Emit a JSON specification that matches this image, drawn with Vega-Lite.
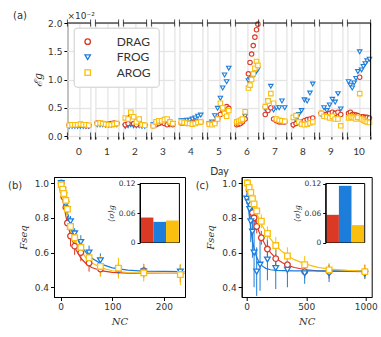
{
  "$schema": "https://vega.github.io/schema/vega-lite/v6.json",
  "background": "white",
  "padding": {"left": 7, "top": 11, "right": 2, "bottom": 2},
  "config": {
    "view": {"stroke": null},
    "font": "DejaVu Sans",
    "axis": {"labelFont": "DejaVu Sans", "labelFontSize": 9, "labelColor": "#333333", "titleFont": "Lato", "titleFontSize": 10, "titleFontWeight": "normal", "titleColor": "#333333", "domainColor": "black", "tickColor": "black", "grid": false, "labelFlush": false, "labelOverlap": false, "labelBound": false, "tickSize": 3.5},
    "title": {"font": "DejaVu Sans", "fontSize": 10, "fontWeight": "normal", "color": "#333333"}
  },
  "title": {"text": "(a)", "anchor": "start", "frame": "group", "dx": -41, "dy": 9, "offset": 0},
  "datasets": {
    "top": [
      {"d":0,"t":0.08,"DRAG":0.19,"FROG":0.17,"AROG":0.19},{"d":0,"t":0.2,"DRAG":0.19,"FROG":0.17,"AROG":0.2},{"d":0,"t":0.32,"DRAG":0.19,"FROG":0.17,"AROG":0.2},{"d":0,"t":0.44,"DRAG":0.19,"FROG":0.17,"AROG":0.2},{"d":0,"t":0.56,"DRAG":0.19,"FROG":0.17,"AROG":0.21},{"d":0,"t":0.68,"DRAG":0.19,"FROG":0.17,"AROG":0.2},{"d":0,"t":0.8,"DRAG":0.18,"FROG":0.17,"AROG":0.2},{"d":0,"t":0.92,"DRAG":0.18,"FROG":0.17,"AROG":0.19},
      {"d":1,"t":0.08,"DRAG":0.23,"FROG":0.2,"AROG":0.22},{"d":1,"t":0.2,"DRAG":0.23,"FROG":0.2,"AROG":0.23},{"d":1,"t":0.32,"DRAG":0.22,"FROG":0.2,"AROG":0.22},{"d":1,"t":0.44,"DRAG":0.21,"FROG":0.19,"AROG":0.21},{"d":1,"t":0.56,"DRAG":0.21,"FROG":0.19,"AROG":0.2},{"d":1,"t":0.68,"DRAG":0.22,"FROG":0.19,"AROG":0.2},{"d":1,"t":0.8,"DRAG":0.23,"FROG":0.2,"AROG":0.21},{"d":1,"t":0.92,"DRAG":0.22,"FROG":0.2,"AROG":0.22},
      {"d":2,"t":0.08,"DRAG":0.2,"FROG":0.17,"AROG":0.32},{"d":2,"t":0.2,"DRAG":0.22,"FROG":0.18,"AROG":0.3},{"d":2,"t":0.32,"DRAG":0.35,"FROG":0.2,"AROG":0.42},{"d":2,"t":0.44,"DRAG":0.22,"FROG":0.18,"AROG":0.34},{"d":2,"t":0.56,"DRAG":0.2,"FROG":0.18,"AROG":0.25},{"d":2,"t":0.68,"DRAG":0.25,"FROG":0.18,"AROG":0.3},{"d":2,"t":0.8,"DRAG":0.2,"FROG":0.17,"AROG":0.2},{"d":2,"t":0.92,"DRAG":0.19,"FROG":0.17,"AROG":0.19},
      {"d":3,"t":0.08,"DRAG":0.18,"FROG":0.2,"AROG":0.18},{"d":3,"t":0.2,"DRAG":0.2,"FROG":0.22,"AROG":0.25},{"d":3,"t":0.32,"DRAG":0.22,"FROG":0.22,"AROG":0.27},{"d":3,"t":0.44,"DRAG":0.24,"FROG":0.24,"AROG":0.27},{"d":3,"t":0.56,"DRAG":0.22,"FROG":0.25,"AROG":0.29},{"d":3,"t":0.68,"DRAG":0.2,"FROG":0.22,"AROG":0.3},{"d":3,"t":0.8,"DRAG":0.22,"FROG":0.2,"AROG":0.25},{"d":3,"t":0.92,"DRAG":0.2,"FROG":0.22,"AROG":0.22},
      {"d":4,"t":0.08,"DRAG":0.23,"FROG":0.27,"AROG":0.25},{"d":4,"t":0.2,"DRAG":0.23,"FROG":0.27,"AROG":0.24},{"d":4,"t":0.32,"DRAG":0.22,"FROG":0.28,"AROG":0.23},{"d":4,"t":0.44,"DRAG":0.22,"FROG":0.28,"AROG":0.22},{"d":4,"t":0.56,"DRAG":0.23,"FROG":0.3,"AROG":0.21},{"d":4,"t":0.68,"DRAG":0.24,"FROG":0.32,"AROG":0.22},{"d":4,"t":0.8,"DRAG":0.25,"FROG":0.35,"AROG":0.24},{"d":4,"t":0.92,"DRAG":0.25,"FROG":0.37,"AROG":0.25},
      {"d":5,"t":0.08,"DRAG":0.22,"FROG":0.22,"AROG":0.21},{"d":5,"t":0.2,"DRAG":0.22,"FROG":0.25,"AROG":0.2},{"d":5,"t":0.32,"DRAG":0.24,"FROG":0.36,"AROG":0.22},{"d":5,"t":0.44,"DRAG":0.3,"FROG":0.49,"AROG":0.3},{"d":5,"t":0.56,"DRAG":0.38,"FROG":0.67,"AROG":0.58},{"d":5,"t":0.66,"DRAG":0.46,"FROG":0.85,"AROG":0.5},{"d":5,"t":0.74,"DRAG":0.4,"FROG":1.08,"AROG":0.4},{"d":5,"t":0.83,"DRAG":0.52,"FROG":0.96,"AROG":0.35},{"d":5,"t":0.92,"DRAG":0.49,"FROG":1.2,"AROG":0.45},
      {"d":6,"t":0.06,"DRAG":0.2,"FROG":0.2,"AROG":0.25},{"d":6,"t":0.14,"DRAG":0.21,"FROG":0.21,"AROG":0.26},{"d":6,"t":0.22,"DRAG":0.22,"FROG":0.23,"AROG":0.28},{"d":6,"t":0.3,"DRAG":0.25,"FROG":0.26,"AROG":0.3},{"d":6,"t":0.42,"DRAG":0.3,"FROG":0.35,"AROG":0.43},{"d":6,"t":0.56,"DRAG":1.1,"FROG":0.98,"AROG":0.85},{"d":6,"t":0.63,"DRAG":1.3,"FROG":1.0,"AROG":0.9},{"d":6,"t":0.7,"DRAG":1.45,"FROG":1.03,"AROG":1.0},{"d":6,"t":0.77,"DRAG":1.6,"FROG":1.06,"AROG":1.1},{"d":6,"t":0.84,"DRAG":1.75,"FROG":1.1,"AROG":1.2},{"d":6,"t":0.91,"DRAG":1.88,"FROG":1.15,"AROG":1.32},{"d":6,"t":0.97,"DRAG":1.98,"FROG":1.18,"AROG":1.25},
      {"d":7,"t":0.08,"DRAG":0.38,"FROG":0.48,"AROG":0.52},{"d":7,"t":0.2,"DRAG":0.45,"FROG":0.62,"AROG":0.62},{"d":7,"t":0.32,"DRAG":0.5,"FROG":0.88,"AROG":0.75},{"d":7,"t":0.44,"DRAG":0.3,"FROG":0.46,"AROG":0.58},{"d":7,"t":0.56,"DRAG":0.27,"FROG":0.5,"AROG":0.3},{"d":7,"t":0.68,"DRAG":0.25,"FROG":0.5,"AROG":0.28},{"d":7,"t":0.8,"DRAG":0.25,"FROG":0.62,"AROG":0.27},{"d":7,"t":0.92,"DRAG":0.25,"FROG":0.5,"AROG":0.26},
      {"d":8,"t":0.08,"DRAG":0.2,"FROG":0.18,"AROG":0.33},{"d":8,"t":0.2,"DRAG":0.22,"FROG":0.28,"AROG":0.36},{"d":8,"t":0.32,"DRAG":0.24,"FROG":0.38,"AROG":0.25},{"d":8,"t":0.44,"DRAG":0.25,"FROG":0.45,"AROG":0.21},{"d":8,"t":0.56,"DRAG":0.27,"FROG":0.64,"AROG":0.2},{"d":8,"t":0.68,"DRAG":0.29,"FROG":0.62,"AROG":0.21},{"d":8,"t":0.8,"DRAG":0.3,"FROG":0.76,"AROG":0.23},{"d":8,"t":0.92,"DRAG":0.32,"FROG":0.92,"AROG":0.25},
      {"d":9,"t":0.08,"DRAG":0.4,"FROG":0.38,"AROG":0.4},{"d":9,"t":0.2,"DRAG":0.38,"FROG":0.5,"AROG":0.35},{"d":9,"t":0.32,"DRAG":0.38,"FROG":0.45,"AROG":0.34},{"d":9,"t":0.44,"DRAG":0.4,"FROG":0.55,"AROG":0.32},{"d":9,"t":0.56,"DRAG":0.42,"FROG":0.65,"AROG":0.35},{"d":9,"t":0.68,"DRAG":0.4,"FROG":0.6,"AROG":0.3},{"d":9,"t":0.8,"DRAG":0.42,"FROG":0.75,"AROG":0.3},{"d":9,"t":0.92,"DRAG":0.38,"FROG":0.48,"AROG":0.18},
      {"d":10,"t":0.05,"DRAG":0.4,"FROG":0.96,"AROG":0.32},{"d":10,"t":0.13,"DRAG":0.42,"FROG":0.9,"AROG":0.34},{"d":10,"t":0.21,"DRAG":0.38,"FROG":0.85,"AROG":0.33},{"d":10,"t":0.29,"DRAG":0.38,"FROG":0.94,"AROG":0.32},{"d":10,"t":0.37,"DRAG":0.37,"FROG":1.02,"AROG":0.3},{"d":10,"t":0.45,"DRAG":0.36,"FROG":1.14,"AROG":0.33},{"d":10,"t":0.53,"DRAG":1.04,"FROG":1.49,"AROG":0.75},{"d":10,"t":0.61,"DRAG":0.34,"FROG":1.17,"AROG":0.3},{"d":10,"t":0.69,"DRAG":0.34,"FROG":1.23,"AROG":0.28},{"d":10,"t":0.77,"DRAG":0.33,"FROG":1.28,"AROG":0.26},{"d":10,"t":0.85,"DRAG":0.33,"FROG":1.33,"AROG":0.25},{"d":10,"t":0.95,"DRAG":0.32,"FROG":1.36,"AROG":0.24}
    ],
    "bcurve": [
      {"m":"DRAG","n":0,"f":1.0},{"m":"DRAG","n":5,"f":0.894},{"m":"DRAG","n":10,"f":0.81},{"m":"DRAG","n":15,"f":0.743},{"m":"DRAG","n":20,"f":0.69},{"m":"DRAG","n":30,"f":0.613},{"m":"DRAG","n":40,"f":0.564},{"m":"DRAG","n":50,"f":0.534},{"m":"DRAG","n":60,"f":0.514},{"m":"DRAG","n":80,"f":0.494},{"m":"DRAG","n":100,"f":0.486},{"m":"DRAG","n":130,"f":0.481},{"m":"DRAG","n":160,"f":0.48},{"m":"DRAG","n":200,"f":0.48},{"m":"DRAG","n":240,"f":0.48},
      {"m":"FROG","n":0,"f":1.0},{"m":"FROG","n":5,"f":0.926},{"m":"FROG","n":10,"f":0.863},{"m":"FROG","n":15,"f":0.809},{"m":"FROG","n":20,"f":0.763},{"m":"FROG","n":30,"f":0.69},{"m":"FROG","n":40,"f":0.636},{"m":"FROG","n":50,"f":0.597},{"m":"FROG","n":60,"f":0.568},{"m":"FROG","n":80,"f":0.532},{"m":"FROG","n":100,"f":0.512},{"m":"FROG","n":130,"f":0.499},{"m":"FROG","n":160,"f":0.493},{"m":"FROG","n":200,"f":0.491},{"m":"FROG","n":240,"f":0.49},
      {"m":"AROG","n":0,"f":1.0},{"m":"AROG","n":5,"f":0.915},{"m":"AROG","n":10,"f":0.844},{"m":"AROG","n":15,"f":0.784},{"m":"AROG","n":20,"f":0.735},{"m":"AROG","n":30,"f":0.658},{"m":"AROG","n":40,"f":0.605},{"m":"AROG","n":50,"f":0.567},{"m":"AROG","n":60,"f":0.541},{"m":"AROG","n":80,"f":0.51},{"m":"AROG","n":100,"f":0.495},{"m":"AROG","n":130,"f":0.485},{"m":"AROG","n":160,"f":0.482},{"m":"AROG","n":200,"f":0.48},{"m":"AROG","n":240,"f":0.48}
    ],
    "bpts": [
      {"m":"DRAG","n":1,"f":1.0,"e":0.01},{"m":"DRAG","n":4,"f":0.965,"e":0.015},{"m":"DRAG","n":6,"f":0.92,"e":0.02},{"m":"DRAG","n":10,"f":0.86,"e":0.03},{"m":"DRAG","n":13,"f":0.77,"e":0.04},{"m":"DRAG","n":19,"f":0.695,"e":0.06},{"m":"DRAG","n":27,"f":0.637,"e":0.05},{"m":"DRAG","n":39,"f":0.6,"e":0.05},{"m":"DRAG","n":55,"f":0.54,"e":0.05},{"m":"DRAG","n":77,"f":0.505,"e":0.04},{"m":"DRAG","n":112,"f":0.5,"e":0.04},{"m":"DRAG","n":161,"f":0.495,"e":0.04},{"m":"DRAG","n":232,"f":0.48,"e":0.05},
      {"m":"FROG","n":1,"f":1.0,"e":0.01},{"m":"FROG","n":4,"f":0.96,"e":0.015},{"m":"FROG","n":6,"f":0.93,"e":0.02},{"m":"FROG","n":10,"f":0.88,"e":0.03},{"m":"FROG","n":13,"f":0.85,"e":0.03},{"m":"FROG","n":19,"f":0.78,"e":0.03},{"m":"FROG","n":27,"f":0.71,"e":0.03},{"m":"FROG","n":39,"f":0.66,"e":0.04},{"m":"FROG","n":55,"f":0.6,"e":0.04},{"m":"FROG","n":77,"f":0.555,"e":0.04},{"m":"FROG","n":112,"f":0.5,"e":0.04},{"m":"FROG","n":161,"f":0.49,"e":0.03},{"m":"FROG","n":232,"f":0.49,"e":0.04},
      {"m":"AROG","n":1,"f":0.99,"e":0.01},{"m":"AROG","n":4,"f":0.965,"e":0.015},{"m":"AROG","n":6,"f":0.94,"e":0.02},{"m":"AROG","n":10,"f":0.9,"e":0.02},{"m":"AROG","n":13,"f":0.85,"e":0.03},{"m":"AROG","n":19,"f":0.75,"e":0.04},{"m":"AROG","n":27,"f":0.685,"e":0.04},{"m":"AROG","n":39,"f":0.63,"e":0.05},{"m":"AROG","n":55,"f":0.57,"e":0.05},{"m":"AROG","n":77,"f":0.52,"e":0.06},{"m":"AROG","n":112,"f":0.51,"e":0.06},{"m":"AROG","n":161,"f":0.483,"e":0.05},{"m":"AROG","n":232,"f":0.473,"e":0.06}
    ],
    "ccurve": [
      {"m":"DRAG","n":0,"f":1.0},{"m":"DRAG","n":20,"f":0.927},{"m":"DRAG","n":40,"f":0.865},{"m":"DRAG","n":60,"f":0.811},{"m":"DRAG","n":80,"f":0.765},{"m":"DRAG","n":100,"f":0.726},{"m":"DRAG","n":130,"f":0.678},{"m":"DRAG","n":160,"f":0.639},{"m":"DRAG","n":200,"f":0.6},{"m":"DRAG","n":250,"f":0.564},{"m":"DRAG","n":300,"f":0.541},{"m":"DRAG","n":350,"f":0.525},{"m":"DRAG","n":400,"f":0.514},{"m":"DRAG","n":500,"f":0.501},{"m":"DRAG","n":600,"f":0.495},{"m":"DRAG","n":700,"f":0.492},{"m":"DRAG","n":850,"f":0.491},{"m":"DRAG","n":1000,"f":0.49},
      {"m":"FROG","n":0,"f":1.0},{"m":"FROG","n":10,"f":0.9},{"m":"FROG","n":20,"f":0.819},{"m":"FROG","n":40,"f":0.703},{"m":"FROG","n":60,"f":0.628},{"m":"FROG","n":80,"f":0.58},{"m":"FROG","n":100,"f":0.55},{"m":"FROG","n":130,"f":0.523},{"m":"FROG","n":160,"f":0.509},{"m":"FROG","n":200,"f":0.501},{"m":"FROG","n":250,"f":0.497},{"m":"FROG","n":300,"f":0.496},{"m":"FROG","n":400,"f":0.495},{"m":"FROG","n":600,"f":0.495},{"m":"FROG","n":800,"f":0.495},{"m":"FROG","n":1000,"f":0.495},
      {"m":"AROG","n":0,"f":1.0},{"m":"AROG","n":20,"f":0.952},{"m":"AROG","n":40,"f":0.908},{"m":"AROG","n":60,"f":0.868},{"m":"AROG","n":80,"f":0.832},{"m":"AROG","n":100,"f":0.8},{"m":"AROG","n":130,"f":0.756},{"m":"AROG","n":160,"f":0.719},{"m":"AROG","n":200,"f":0.678},{"m":"AROG","n":250,"f":0.636},{"m":"AROG","n":300,"f":0.604},{"m":"AROG","n":350,"f":0.579},{"m":"AROG","n":400,"f":0.559},{"m":"AROG","n":500,"f":0.532},{"m":"AROG","n":600,"f":0.515},{"m":"AROG","n":700,"f":0.505},{"m":"AROG","n":850,"f":0.497},{"m":"AROG","n":1000,"f":0.493}
    ],
    "cpts": [
      {"m":"DRAG","n":6,"f":1.0,"e":0.01},{"m":"DRAG","n":20,"f":0.96,"e":0.02},{"m":"DRAG","n":34,"f":0.88,"e":0.03},{"m":"DRAG","n":48,"f":0.83,"e":0.03},{"m":"DRAG","n":62,"f":0.8,"e":0.04},{"m":"DRAG","n":84,"f":0.75,"e":0.04},{"m":"DRAG","n":123,"f":0.685,"e":0.04},{"m":"DRAG","n":174,"f":0.62,"e":0.05},{"m":"DRAG","n":244,"f":0.565,"e":0.05},{"m":"DRAG","n":342,"f":0.53,"e":0.05},{"m":"DRAG","n":487,"f":0.49,"e":0.04},{"m":"DRAG","n":692,"f":0.49,"e":0.04},{"m":"DRAG","n":992,"f":0.49,"e":0.04},
      {"m":"FROG","n":0,"f":0.91,"e":0.03},{"m":"FROG","n":14,"f":0.89,"e":0.05},{"m":"FROG","n":25,"f":0.85,"e":0.08},{"m":"FROG","n":34,"f":0.78,"e":0.12},{"m":"FROG","n":48,"f":0.72,"e":0.15},{"m":"FROG","n":62,"f":0.6,"e":0.2},{"m":"FROG","n":84,"f":0.49,"e":0.14},{"m":"FROG","n":112,"f":0.53,"e":0.15},{"m":"FROG","n":174,"f":0.56,"e":0.12},{"m":"FROG","n":244,"f":0.51,"e":0.12},{"m":"FROG","n":342,"f":0.5,"e":0.1},{"m":"FROG","n":487,"f":0.48,"e":0.06},{"m":"FROG","n":692,"f":0.48,"e":0.05},{"m":"FROG","n":992,"f":0.477,"e":0.03},
      {"m":"AROG","n":6,"f":1.0,"e":0.01},{"m":"AROG","n":20,"f":0.975,"e":0.02},{"m":"AROG","n":34,"f":0.946,"e":0.02},{"m":"AROG","n":48,"f":0.91,"e":0.02},{"m":"AROG","n":62,"f":0.88,"e":0.03},{"m":"AROG","n":84,"f":0.84,"e":0.03},{"m":"AROG","n":123,"f":0.78,"e":0.04},{"m":"AROG","n":174,"f":0.71,"e":0.04},{"m":"AROG","n":244,"f":0.64,"e":0.05},{"m":"AROG","n":342,"f":0.58,"e":0.05},{"m":"AROG","n":487,"f":0.53,"e":0.05},{"m":"AROG","n":692,"f":0.5,"e":0.04},{"m":"AROG","n":992,"f":0.49,"e":0.04}
    ],
    "bbar": [{"m":"DRAG","s":0.0508},{"m":"FROG","s":0.042},{"m":"AROG","s":0.0447}],
    "cbar": [{"m":"DRAG","s":0.0563},{"m":"FROG","s":0.1153},{"m":"AROG","s":0.0353}]
  },
  "vconcat": [
    {
      "hconcat": [
        {"width": 1, "height": 1, "data": {"values": []}, "mark": "point", "encoding": {}},
        {
          "data": {"name": "top"},
          "transform": [{"fold": ["DRAG", "FROG", "AROG"], "as": ["m", "v"]}],
          "title": {"text": "×10⁻²", "anchor": "start", "frame": "group", "offset": 3, "dy": 5, "fontSize": 9},
          "facet": {"column": {"field": "d", "type": "ordinal", "title": "Day", "header": {"labelOrient": "bottom", "titleOrient": "bottom", "labelFont": "Lato", "labelFontSize": 10, "labelColor": "#333333", "labelPadding": 7, "titleFont": "Lato", "titleFontSize": 10.5, "titleFontWeight": "normal", "titleColor": "#333333", "titlePadding": 0}}},
          "spacing": 4,
          "bounds": "flush",
          "spec": {
            "width": 23.2,
            "height": 113,
            "layer": [
              {
                "mark": {"type": "point", "filled": false, "fill": "white", "strokeWidth": 1.1, "size": 20, "opacity": 1},
                "encoding": {
                  "x": {"field": "t", "type": "quantitative", "scale": {"domain": [0, 1], "nice": false, "zero": false}, "axis": {"values": [0, 0.5, 1], "labels": false, "tickSize": 3, "grid": true, "gridColor": "#e4e4e4", "gridWidth": 1.3, "title": null}},
                  "y": {"field": "v", "type": "quantitative", "scale": {"domain": [0, 2], "nice": false}, "axis": {"values": [0, 0.5, 1, 1.5, 2], "format": ".1f", "labelOverlap": false, "grid": true, "gridColor": "#e4e4e4", "gridWidth": 1.3, "title": "ℰg", "titleFont": "DejaVu Serif", "titleFontStyle": "italic", "titleFontSize": 11, "titlePadding": 4}},
                  "color": {"field": "m", "type": "nominal", "scale": {"domain": ["DRAG", "FROG", "AROG"], "range": ["#dc3924", "#1c7ddb", "#fbbf0d"]}, "legend": {"title": null, "orient": "none", "legendX": 6.3, "legendY": 4.7, "fillColor": "white", "strokeColor": "#cccccc", "padding": 8, "cornerRadius": 3, "labelFont": "Lato", "labelFontSize": 12, "labelColor": "#333333", "symbolStrokeWidth": 1.3, "symbolSize": 30, "rowPadding": 3.5, "labelOffset": 23}},
                  "shape": {"field": "m", "type": "nominal", "scale": {"domain": ["DRAG", "FROG", "AROG"], "range": ["circle", "triangle-down", "square"]}, "legend": {"title": null, "orient": "none", "legendX": 6.3, "legendY": 4.7, "fillColor": "white", "strokeColor": "#cccccc", "padding": 8, "cornerRadius": 3, "labelFont": "Lato", "labelFontSize": 12, "labelColor": "#333333", "symbolStrokeWidth": 1.3, "symbolSize": 30, "rowPadding": 3.5, "labelOffset": 23}},
                  "order": {"field": "m", "sort": "descending"}
                }
              },
              {
                "transform": [{"aggregate": [{"op": "count", "as": "c"}], "groupby": ["d"]}],
                "layer": [
                  {"mark": {"type": "rule", "color": "black", "strokeWidth": 1}, "encoding": {"x": {"datum": 0, "type": "quantitative", "axis": {"values": [0, 0.5, 1], "labels": false, "tickSize": 3, "grid": true, "gridColor": "#e4e4e4", "gridWidth": 1.3, "title": null}}, "x2": {"datum": 1}, "y": {"datum": 2, "type": "quantitative", "axis": {"values": [0, 0.5, 1, 1.5, 2], "format": ".1f", "labelOverlap": false, "grid": true, "gridColor": "#e4e4e4", "gridWidth": 1.3, "title": "ℰg", "titleFont": "DejaVu Serif", "titleFontStyle": "italic", "titleFontSize": 11, "titlePadding": 4}}}},
                  {"mark": {"type": "tick", "orient": "vertical", "color": "black", "size": 7, "thickness": 1}, "encoding": {"x": {"datum": 0, "type": "quantitative", "axis": {"values": [0, 0.5, 1], "labels": false, "tickSize": 3, "grid": true, "gridColor": "#e4e4e4", "gridWidth": 1.3, "title": null}}, "y": {"datum": 2, "type": "quantitative", "axis": {"values": [0, 0.5, 1, 1.5, 2], "format": ".1f", "labelOverlap": false, "grid": true, "gridColor": "#e4e4e4", "gridWidth": 1.3, "title": "ℰg", "titleFont": "DejaVu Serif", "titleFontStyle": "italic", "titleFontSize": 11, "titlePadding": 4}}}},
                  {"mark": {"type": "tick", "orient": "vertical", "color": "black", "size": 7, "thickness": 1}, "encoding": {"x": {"datum": 1, "type": "quantitative", "axis": {"values": [0, 0.5, 1], "labels": false, "tickSize": 3, "grid": true, "gridColor": "#e4e4e4", "gridWidth": 1.3, "title": null}}, "y": {"datum": 2, "type": "quantitative", "axis": {"values": [0, 0.5, 1, 1.5, 2], "format": ".1f", "labelOverlap": false, "grid": true, "gridColor": "#e4e4e4", "gridWidth": 1.3, "title": "ℰg", "titleFont": "DejaVu Serif", "titleFontStyle": "italic", "titleFontSize": 11, "titlePadding": 4}}}},
                  {"mark": {"type": "tick", "orient": "vertical", "color": "black", "size": 7, "thickness": 1}, "encoding": {"x": {"datum": 0, "type": "quantitative", "axis": {"values": [0, 0.5, 1], "labels": false, "tickSize": 3, "grid": true, "gridColor": "#e4e4e4", "gridWidth": 1.3, "title": null}}, "y": {"datum": 0, "type": "quantitative", "axis": {"values": [0, 0.5, 1, 1.5, 2], "format": ".1f", "labelOverlap": false, "grid": true, "gridColor": "#e4e4e4", "gridWidth": 1.3, "title": "ℰg", "titleFont": "DejaVu Serif", "titleFontStyle": "italic", "titleFontSize": 11, "titlePadding": 4}}}},
                  {"mark": {"type": "tick", "orient": "vertical", "color": "black", "size": 7, "thickness": 1}, "encoding": {"x": {"datum": 1, "type": "quantitative", "axis": {"values": [0, 0.5, 1], "labels": false, "tickSize": 3, "grid": true, "gridColor": "#e4e4e4", "gridWidth": 1.3, "title": null}}, "y": {"datum": 0, "type": "quantitative", "axis": {"values": [0, 0.5, 1, 1.5, 2], "format": ".1f", "labelOverlap": false, "grid": true, "gridColor": "#e4e4e4", "gridWidth": 1.3, "title": "ℰg", "titleFont": "DejaVu Serif", "titleFontStyle": "italic", "titleFontSize": 11, "titlePadding": 4}}}},
                  {"transform": [{"filter": "datum.d == 10"}], "mark": {"type": "rule", "color": "black", "strokeWidth": 1}, "encoding": {"x": {"datum": 1, "type": "quantitative", "axis": {"values": [0, 0.5, 1], "labels": false, "tickSize": 3, "grid": true, "gridColor": "#e4e4e4", "gridWidth": 1.3, "title": null}}, "y": {"datum": 0, "type": "quantitative", "axis": {"values": [0, 0.5, 1, 1.5, 2], "format": ".1f", "labelOverlap": false, "grid": true, "gridColor": "#e4e4e4", "gridWidth": 1.3, "title": "ℰg", "titleFont": "DejaVu Serif", "titleFontStyle": "italic", "titleFontSize": 11, "titlePadding": 4}}, "y2": {"datum": 2}}}
                ]
              }
            ]
          }
        }
      ],
      "spacing": 12.4,
      "bounds": "flush",
      "resolve": {"legend": {"color": "independent", "shape": "independent"}}
    },
    {
      "hconcat": [
        {
          "title": {"text": "(b)", "anchor": "start", "frame": "group", "dx": -46, "dy": 14, "offset": 0},
          "width": 131,
          "height": 120,
          "view": {"stroke": "black", "strokeWidth": 1},
          "layer": [
            {
              "layer": [
                {
                  "data": {"name": "bcurve"},
                  "mark": {"type": "line", "strokeWidth": 1.2},
                  "encoding": {
                    "x": {"field": "n", "type": "quantitative", "title": "NC", "scale": {"domain": [-13, 241], "nice": false, "zero": false}, "axis": {"values": [0, 100, 200], "labelOverlap": false, "titleFont": "DejaVu Serif", "titleFontStyle": "italic", "titlePadding": 5}},
                    "y": {"field": "f", "type": "quantitative", "title": "Fseq", "scale": {"domain": [0.344, 1.035], "nice": false, "zero": false}, "axis": {"values": [0.4, 0.6, 0.8, 1.0], "format": ".1f", "labelOverlap": false, "titleFont": "DejaVu Serif", "titleFontStyle": "italic", "titlePadding": 6}},
                    "color": {"field": "m", "type": "nominal", "scale": {"domain": ["DRAG", "FROG", "AROG"], "range": ["#dc3924", "#1c7ddb", "#fbbf0d"]}, "legend": null}
                  }
                },
                {
                  "data": {"name": "bpts"},
                  "mark": {"type": "errorbar", "ticks": false, "thickness": 1},
                  "encoding": {
                    "x": {"field": "n", "type": "quantitative", "title": "NC", "axis": {"values": [0, 100, 200], "labelOverlap": false, "titleFont": "DejaVu Serif", "titleFontStyle": "italic", "titlePadding": 5}},
                    "y": {"field": "f", "type": "quantitative", "title": "Fseq", "axis": {"values": [0.4, 0.6, 0.8, 1.0], "format": ".1f", "labelOverlap": false, "titleFont": "DejaVu Serif", "titleFontStyle": "italic", "titlePadding": 6}},
                    "yError": {"field": "e"},
                    "color": {"field": "m", "type": "nominal", "legend": null}
                  }
                },
                {
                  "data": {"name": "bpts"},
                  "mark": {"type": "point", "filled": false, "fill": "white", "strokeWidth": 1.3, "size": 32, "opacity": 1},
                  "encoding": {
                    "x": {"field": "n", "type": "quantitative", "title": "NC", "axis": {"values": [0, 100, 200], "labelOverlap": false, "titleFont": "DejaVu Serif", "titleFontStyle": "italic", "titlePadding": 5}},
                    "y": {"field": "f", "type": "quantitative", "title": "Fseq", "axis": {"values": [0.4, 0.6, 0.8, 1.0], "format": ".1f", "labelOverlap": false, "titleFont": "DejaVu Serif", "titleFontStyle": "italic", "titlePadding": 6}},
                    "color": {"field": "m", "type": "nominal", "legend": null},
                    "shape": {"field": "m", "type": "nominal", "scale": {"domain": ["DRAG", "FROG", "AROG"], "range": ["circle", "triangle-down", "square"]}, "legend": null}
                  }
                }
              ]
            },
            {
              "data": {"values": [{}]},
              "mark": {"type": "rect", "fill": "white", "stroke": "black", "strokeWidth": 1},
              "encoding": {
                "x": {"datum": 0, "type": "quantitative", "scale": {"domain": [0, 1], "range": [86, 125.4]}, "axis": null},
                "x2": {"datum": 1},
                "y": {"datum": 0, "type": "quantitative", "scale": {"domain": [0, 1], "range": [65.5, 6.5]}, "axis": null},
                "y2": {"datum": 1}
              }
            },
            {
              "data": {"name": "bbar"},
              "mark": {"type": "bar"},
              "encoding": {
                "x": {"field": "m", "type": "nominal", "sort": ["DRAG", "FROG", "AROG"], "scale": {"range": [86, 125.4], "paddingInner": 0, "paddingOuter": 0.05}, "axis": null},
                "y": {"field": "s", "type": "quantitative", "scale": {"domain": [0, 0.12], "range": [65.5, 6.5], "nice": false}, "axis": {"orient": "left", "offset": -86, "values": [0, 0.06, 0.12], "labelOverlap": false, "labelExpr": "datum.value == 0 ? '0' : format(datum.value, '.2f')", "labelFontSize": 7.5, "tickSize": 3, "title": "⟨σ⟩g", "titleFont": "DejaVu Serif", "titleFontStyle": "italic", "titleFontSize": 8, "titlePadding": 3, "zindex": 2}},
                "color": {"field": "m", "type": "nominal", "legend": null}
              }
            }
          ],
          "resolve": {"scale": {"x": "independent", "y": "independent"}, "axis": {"x": "independent", "y": "independent"}}
        },
        {
          "title": {"text": "(c)", "anchor": "start", "frame": "group", "dx": -46, "dy": 14, "offset": 0},
          "width": 130,
          "height": 120,
          "view": {"stroke": "black", "strokeWidth": 1},
          "layer": [
            {
              "layer": [
                {
                  "data": {"name": "ccurve"},
                  "mark": {"type": "line", "strokeWidth": 1.2},
                  "encoding": {
                    "x": {"field": "n", "type": "quantitative", "title": "NC", "scale": {"domain": [-42, 1050], "nice": false, "zero": false}, "axis": {"values": [0, 500, 1000], "format": "d", "labelOverlap": false, "titleFont": "DejaVu Serif", "titleFontStyle": "italic", "titlePadding": 5}},
                    "y": {"field": "f", "type": "quantitative", "title": "Fseq", "scale": {"domain": [0.344, 1.035], "nice": false, "zero": false}, "axis": {"values": [0.4, 0.6, 0.8, 1.0], "format": ".1f", "labelOverlap": false, "titleFont": "DejaVu Serif", "titleFontStyle": "italic", "titlePadding": 6}},
                    "color": {"field": "m", "type": "nominal", "scale": {"domain": ["DRAG", "FROG", "AROG"], "range": ["#dc3924", "#1c7ddb", "#fbbf0d"]}, "legend": null}
                  }
                },
                {
                  "data": {"name": "cpts"},
                  "mark": {"type": "errorbar", "ticks": false, "thickness": 1},
                  "encoding": {
                    "x": {"field": "n", "type": "quantitative", "title": "NC", "axis": {"values": [0, 500, 1000], "format": "d", "labelOverlap": false, "titleFont": "DejaVu Serif", "titleFontStyle": "italic", "titlePadding": 5}},
                    "y": {"field": "f", "type": "quantitative", "title": "Fseq", "axis": {"values": [0.4, 0.6, 0.8, 1.0], "format": ".1f", "labelOverlap": false, "titleFont": "DejaVu Serif", "titleFontStyle": "italic", "titlePadding": 6}},
                    "yError": {"field": "e"},
                    "color": {"field": "m", "type": "nominal", "legend": null}
                  }
                },
                {
                  "data": {"name": "cpts"},
                  "mark": {"type": "point", "filled": false, "fill": "white", "strokeWidth": 1.3, "size": 32, "opacity": 1},
                  "encoding": {
                    "x": {"field": "n", "type": "quantitative", "title": "NC", "axis": {"values": [0, 500, 1000], "format": "d", "labelOverlap": false, "titleFont": "DejaVu Serif", "titleFontStyle": "italic", "titlePadding": 5}},
                    "y": {"field": "f", "type": "quantitative", "title": "Fseq", "axis": {"values": [0.4, 0.6, 0.8, 1.0], "format": ".1f", "labelOverlap": false, "titleFont": "DejaVu Serif", "titleFontStyle": "italic", "titlePadding": 6}},
                    "color": {"field": "m", "type": "nominal", "legend": null},
                    "shape": {"field": "m", "type": "nominal", "scale": {"domain": ["DRAG", "FROG", "AROG"], "range": ["circle", "triangle-down", "square"]}, "legend": null}
                  }
                }
              ]
            },
            {
              "data": {"values": [{}]},
              "mark": {"type": "rect", "fill": "white", "stroke": "black", "strokeWidth": 1},
              "encoding": {
                "x": {"datum": 0, "type": "quantitative", "scale": {"domain": [0, 1], "range": [84, 123]}, "axis": null},
                "x2": {"datum": 1},
                "y": {"datum": 0, "type": "quantitative", "scale": {"domain": [0, 1], "range": [65.5, 6.5]}, "axis": null},
                "y2": {"datum": 1}
              }
            },
            {
              "data": {"name": "cbar"},
              "mark": {"type": "bar"},
              "encoding": {
                "x": {"field": "m", "type": "nominal", "sort": ["DRAG", "FROG", "AROG"], "scale": {"range": [84, 123], "paddingInner": 0, "paddingOuter": 0.05}, "axis": null},
                "y": {"field": "s", "type": "quantitative", "scale": {"domain": [0, 0.12], "range": [65.5, 6.5], "nice": false}, "axis": {"orient": "left", "offset": -84, "values": [0, 0.06, 0.12], "labelOverlap": false, "labelExpr": "datum.value == 0 ? '0' : format(datum.value, '.2f')", "labelFontSize": 7.5, "tickSize": 3, "title": "⟨σ⟩g", "titleFont": "DejaVu Serif", "titleFontStyle": "italic", "titleFontSize": 8, "titlePadding": 3, "zindex": 2}},
                "color": {"field": "m", "type": "nominal", "legend": null}
              }
            }
          ],
          "resolve": {"scale": {"x": "independent", "y": "independent"}, "axis": {"x": "independent", "y": "independent"}}
        }
      ],
      "spacing": 56.7,
      "bounds": "flush"
    }
  ],
  "spacing": 154,
  "bounds": "flush",
  "resolve": {"scale": {"color": "shared", "shape": "shared"}, "legend": {"color": "independent", "shape": "independent"}}
}
